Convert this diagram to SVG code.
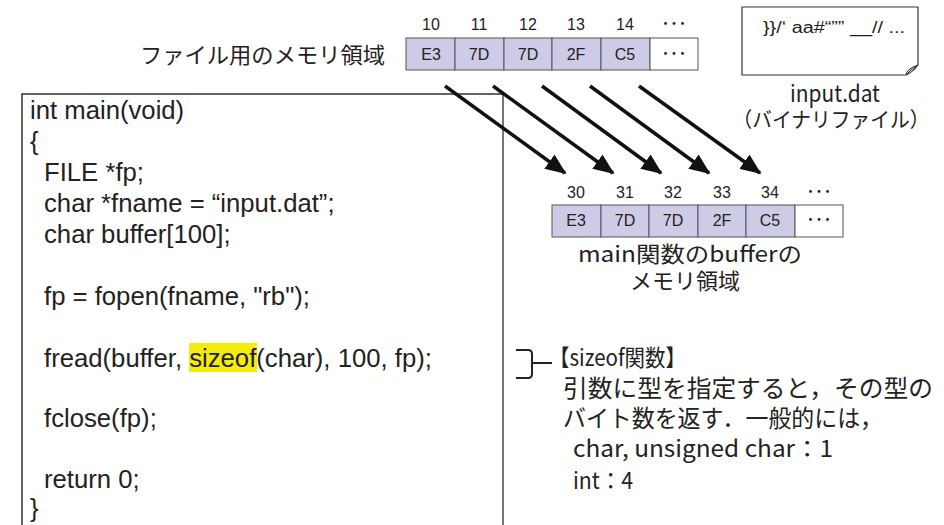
<svg xmlns="http://www.w3.org/2000/svg" width="944" height="525" viewBox="0 0 944 525">
<style>
.code{font-family:"Liberation Sans",Arial,sans-serif;font-size:25.7px;fill:#222}
.jp{font-family:"Noto Sans CJK JP",sans-serif;fill:#222}
.num{font-family:"Liberation Sans",Arial,sans-serif;font-size:16px;fill:#222;text-anchor:middle}
.dots{font-family:"Noto Sans CJK JP",sans-serif;font-size:17px;fill:#222;text-anchor:middle}
.cell{fill:#cdcbe6;stroke:#555;stroke-width:1}
.cellw{fill:#fff;stroke:#555;stroke-width:1}
.arrow{stroke:#111;stroke-width:3.5;fill:none;marker-end:url(#ah)}
</style>
<defs>
<marker id="ah" markerWidth="6" markerHeight="5" refX="5.5" refY="2.5" orient="auto" markerUnits="strokeWidth">
<path d="M0,0 L6,2.5 L0,5 Z" fill="#111"/>
</marker>
</defs>
<rect width="944" height="525" fill="#fff"/>

<g id="file-memory">
<text class="jp" x="385" y="63" font-size="22" text-anchor="end" textLength="245" lengthAdjust="spacingAndGlyphs">ファイル用のメモリ領域</text>
<text class="num" x="431" y="30">10</text>
<text class="num" x="479" y="30">11</text>
<text class="num" x="528" y="30">12</text>
<text class="num" x="576" y="30">13</text>
<text class="num" x="625" y="30">14</text>
<text class="dots" x="674" y="30">･･･</text>
<rect class="cell" x="406" y="38" width="49" height="32"/>
<rect class="cell" x="455" y="38" width="49" height="32"/>
<rect class="cell" x="504" y="38" width="48" height="32"/>
<rect class="cell" x="552" y="38" width="49" height="32"/>
<rect class="cell" x="601" y="38" width="49" height="32"/>
<rect class="cellw" x="650" y="38" width="48" height="32"/>
<text class="num" x="431" y="60">E3</text>
<text class="num" x="479" y="60">7D</text>
<text class="num" x="528" y="60">7D</text>
<text class="num" x="576" y="60">2F</text>
<text class="num" x="625" y="60">C5</text>
<text class="dots" x="674" y="60">･･･</text>
</g>

<g id="input-file">
<path d="M742,7 H918 V65 Q913,72 906,75 H742 Z" fill="#fff" stroke="#333" stroke-width="1.2"/>
<path d="M906,75 Q906,69 918,65 Q912,69 910,71 Z" fill="#ddd" stroke="#333" stroke-width="1"/>
<text x="763" y="33" font-family="'Liberation Sans',Arial,sans-serif" font-size="16" fill="#222" textLength="142" lengthAdjust="spacingAndGlyphs">}}/‘ aa#“”” __//  ...</text>
<text class="jp" x="835" y="102" font-size="23" text-anchor="middle" textLength="90" lengthAdjust="spacingAndGlyphs">input.dat</text>
<text class="jp" x="831" y="127" font-size="21" text-anchor="middle" textLength="197" lengthAdjust="spacingAndGlyphs">（バイナリファイル）</text>
</g>

<g id="code">
<path d="M22,525 V94 H503" fill="none" stroke="#333" stroke-width="1.5"/>
<line x1="503" y1="94" x2="503" y2="525" stroke="#777" stroke-width="2"/>
<rect x="189" y="343" width="68" height="29" fill="#f3ec0c"/>
<text class="code" x="30" y="119">int main(void)</text>
<text class="code" x="30" y="150">{</text>
<text class="code" x="44" y="181">FILE *fp;</text>
<text class="code" x="44" y="212">char *fname = “input.dat”;</text>
<text class="code" x="44" y="243">char buffer[100];</text>
<text class="code" x="44" y="305">fp = fopen(fname, "rb");</text>
<text class="code" x="44" y="367">fread(buffer, sizeof(char), 100, fp);</text>
<text class="code" x="44" y="427">fclose(fp);</text>
<text class="code" x="44" y="488">return 0;</text>
<text class="code" x="30" y="517">}</text>
</g>

<g id="buffer-memory">
<text class="num" x="576" y="198">30</text>
<text class="num" x="625" y="198">31</text>
<text class="num" x="673" y="198">32</text>
<text class="num" x="722" y="198">33</text>
<text class="num" x="770" y="198">34</text>
<text class="dots" x="819" y="198">･･･</text>
<rect class="cell" x="552" y="205" width="49" height="32"/>
<rect class="cell" x="601" y="205" width="48" height="32"/>
<rect class="cell" x="649" y="205" width="49" height="32"/>
<rect class="cell" x="698" y="205" width="48" height="32"/>
<rect class="cell" x="746" y="205" width="49" height="32"/>
<rect class="cellw" x="795" y="205" width="48" height="32"/>
<text class="num" x="576" y="226">E3</text>
<text class="num" x="625" y="226">7D</text>
<text class="num" x="673" y="226">7D</text>
<text class="num" x="722" y="226">2F</text>
<text class="num" x="770" y="226">C5</text>
<text class="dots" x="819" y="226">･･･</text>
<text class="jp" x="690" y="262" font-size="22" text-anchor="middle" textLength="224" lengthAdjust="spacingAndGlyphs">main関数のbufferの</text>
<text class="jp" x="685" y="289" font-size="22" text-anchor="middle" textLength="110" lengthAdjust="spacingAndGlyphs">メモリ領域</text>
</g>

<g id="sizeof-note">
<path d="M516,350 H528 Q532,350 532,354 V374 Q532,378 528,378 H516 M532,363 H552" fill="none" stroke="#222" stroke-width="2"/>
<text class="jp" x="549" y="366" font-size="23" textLength="137" lengthAdjust="spacingAndGlyphs">【sizeof関数】</text>
<text class="jp" x="563" y="397" font-size="24" textLength="370" lengthAdjust="spacingAndGlyphs">引数に型を指定すると，その型の</text>
<text class="jp" x="563" y="427" font-size="24" textLength="320" lengthAdjust="spacingAndGlyphs">バイト数を返す．一般的には，</text>
<text class="jp" x="573" y="457" font-size="23" textLength="260" lengthAdjust="spacingAndGlyphs">char,  unsigned char：1</text>
<text class="jp" x="573" y="489" font-size="23" textLength="60" lengthAdjust="spacingAndGlyphs">int：4</text>
</g>

<g id="connectors">
<line class="arrow" x1="445" y1="86" x2="565" y2="173"/>
<line class="arrow" x1="493" y1="86" x2="613" y2="173"/>
<line class="arrow" x1="542" y1="86" x2="661" y2="173"/>
<line class="arrow" x1="590" y1="86" x2="709" y2="173"/>
<line class="arrow" x1="639" y1="86" x2="760" y2="173"/>
</g>
</svg>
